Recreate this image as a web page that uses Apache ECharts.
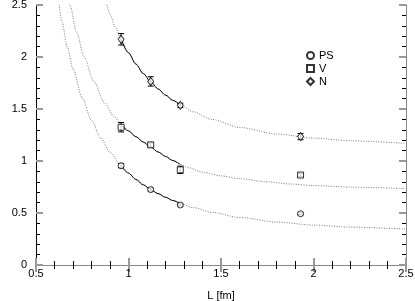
<!DOCTYPE html>
<html>
<head>
<meta charset="utf-8">
<script src="https://cdn.jsdelivr.net/npm/echarts@6/dist/echarts.min.js"></script>
<style>
html,body{margin:0;padding:0;background:#fff;}
#c{width:415px;height:301px;}
</style>
</head>
<body>
<div id="c"></div>
<script>
// ---- data ----
const L_data = [0.96, 1.12, 1.28, 1.93];
const ps_m = [0.955, 0.725, 0.577, 0.493];
const ps_err = [0.02, 0.015, 0.01, 0.01];
const v_m = [1.325, 1.155, 0.915, 0.865];
const v_err = [0.045, 0.02, 0.035, 0.015];
const n_m = [2.17, 1.765, 1.535, 1.235];
const n_err = [0.055, 0.045, 0.02, 0.03];

// fitted curves
const ps_curve_L = [0.6, 0.62, 0.64, 0.67, 0.7, 0.75, 0.8, 0.85, 0.9, 0.96, 1.0, 1.04, 1.08, 1.12, 1.16, 1.2, 1.24, 1.28, 1.35, 1.45, 1.6, 1.8, 2.0, 2.2, 2.5];
const ps_curve_m = [2.74, 2.53, 2.338, 2.09, 1.885, 1.607, 1.391, 1.22, 1.084, 0.955, 0.884, 0.823, 0.771, 0.725, 0.686, 0.651, 0.62, 0.59, 0.552, 0.506, 0.457, 0.413, 0.384, 0.364, 0.345];
const v_curve_L = [0.67, 0.684, 0.72, 0.76, 0.81, 0.87, 0.92, 0.96, 1.0, 1.04, 1.08, 1.12, 1.16, 1.2, 1.24, 1.28, 1.32, 1.4, 1.5, 1.6, 1.75, 1.873, 2.0, 2.2, 2.5];
const v_curve_m = [2.605, 2.493, 2.234, 2.002, 1.772, 1.562, 1.432, 1.352, 1.29, 1.234, 1.182, 1.133, 1.087, 1.044, 1.004, 0.967, 0.937, 0.893, 0.857, 0.83, 0.80, 0.779, 0.764, 0.749, 0.734];
const n_curve_L = [0.86, 0.88, 0.9, 0.93, 0.96, 1.0, 1.04, 1.08, 1.12, 1.16, 1.2, 1.24, 1.28, 1.35, 1.45, 1.6, 1.8, 2.0, 2.2, 2.5];
const n_curve_m = [2.61, 2.507, 2.41, 2.282, 2.17, 2.041, 1.932, 1.84, 1.761, 1.693, 1.634, 1.583, 1.538, 1.4725, 1.40, 1.323, 1.26, 1.22, 1.194, 1.169];

const fitStart = 0.96, fitEnd = 1.28;
const x_ticks = [0.5, 1, 1.5, 2, 2.5];
const y_ticks = [0, 0.5, 1, 1.5, 2, 2.5];

// ---- build ----
const FONT = 'Liberation Sans';
function pairs(Ls, ms, f) {
  const out = [];
  for (let i = 0; i < Ls.length; i++) if (f(Ls[i])) out.push([Ls[i], ms[i]]);
  return out;
}
function curveSeries(Ls, ms) {
  const common = {type: 'line', showSymbol: false, symbol: 'none', smooth: 0.3, smoothMonotone: 'x',
    clip: true, silent: true, legendHoverLink: false};
  return [
    Object.assign({}, common, {z: 1, data: pairs(Ls, ms, l => true),
      lineStyle: {color: '#777', width: 1, type: [1, 1.5]}}),
    Object.assign({}, common, {z: 2, data: pairs(Ls, ms, l => l >= fitStart - 1e-9 && l <= fitEnd + 1e-9),
      lineStyle: {color: '#000', width: 1, type: 'solid'}})
  ];
}
function errSeries(ms, errs) {
  return {
    type: 'custom', silent: true, z: 3,
    data: L_data.map((l, i) => [l, ms[i], errs[i]]),
    encode: {x: 0, y: 1},
    renderItem: function (params, api) {
      const x = api.value(0), y = api.value(1), e = api.value(2);
      const t = api.coord([x, y + e]), b = api.coord([x, y - e]);
      const st = {stroke: '#000', lineWidth: 1};
      const cw = 3;
      return {type: 'group', children: [
        {type: 'line', shape: {x1: t[0], y1: t[1], x2: b[0], y2: b[1]}, style: st},
        {type: 'line', shape: {x1: t[0] - cw, y1: t[1], x2: t[0] + cw, y2: t[1]}, style: st},
        {type: 'line', shape: {x1: b[0] - cw, y1: b[1], x2: b[0] + cw, y2: b[1]}, style: st}
      ]};
    }
  };
}
function scatter(name, ms, symbol, size) {
  return {
    name: name, type: 'scatter', symbol: symbol, symbolSize: size, z: 4,
    data: L_data.map((l, i) => [l, ms[i]]),
    itemStyle: {color: '#fff', borderColor: '#000', borderWidth: 1}
  };
}

const axisCommon = {
  axisLine: {show: true, lineStyle: {color: '#000', width: 1}},
  axisTick: {show: true, inside: true, length: 7, lineStyle: {color: '#999', width: 2}},
  minorTick: {show: true, splitNumber: 5, length: 4, lineStyle: {color: '#000', width: 1}},
  splitLine: {show: false},
};

const option = {
  animation: false,
  backgroundColor: '#fff',
  textStyle: {fontFamily: FONT},
  grid: {left: 36, right: 9, top: 5, bottom: 36, containLabel: false, outerBoundsMode: 'none'},
  legend: {
    data: ['PS', 'V', 'N'], orient: 'vertical', left: 301, top: 45,
    itemWidth: 7, itemHeight: 7, itemGap: 2,
    textStyle: {fontFamily: FONT, fontSize: 11, color: '#000'},
    selectedMode: false
  },
  xAxis: [
    Object.assign({}, axisCommon, {type: 'value', min: x_ticks[0], max: x_ticks[x_ticks.length - 1], interval: 0.5,
      position: 'bottom', name: 'L [fm]', nameLocation: 'middle', nameGap: 25,
      nameTextStyle: {fontFamily: FONT, fontSize: 11, color: '#000'},
      axisLabel: {margin: 3, fontFamily: FONT, fontSize: 11, color: '#000'}}),
    Object.assign({}, axisCommon, {type: 'value', min: x_ticks[0], max: x_ticks[x_ticks.length - 1], interval: 0.5,
      position: 'top', axisLabel: {show: false},
      axisLine: {show: true, lineStyle: {color: '#888', width: 1}}})
  ],
  yAxis: [
    Object.assign({}, axisCommon, {type: 'value', min: y_ticks[0], max: y_ticks[y_ticks.length - 1], interval: 0.5,
      position: 'left', name: 'm [GeV]', nameLocation: 'middle', nameGap: 22,
      nameTextStyle: {fontFamily: FONT, fontSize: 11, color: '#000'},
      axisLabel: {margin: 9, fontFamily: FONT, fontSize: 11, color: '#000'}}),
    Object.assign({}, axisCommon, {type: 'value', min: y_ticks[0], max: y_ticks[y_ticks.length - 1], interval: 0.5,
      position: 'right', axisLabel: {show: false},
      axisLine: {show: true, lineStyle: {color: '#888', width: 1}}})
  ],
  series: [].concat(
    curveSeries(ps_curve_L, ps_curve_m),
    curveSeries(v_curve_L, v_curve_m),
    curveSeries(n_curve_L, n_curve_m),
    [errSeries(ps_m, ps_err), errSeries(v_m, v_err), errSeries(n_m, n_err)],
    [scatter('PS', ps_m, 'circle', 6), scatter('V', v_m, 'rect', 6), scatter('N', n_m, 'diamond', [6, 8])]
  )
};

const chart = echarts.init(document.getElementById('c'), null, {renderer: 'canvas'});
chart.setOption(option);
</script>
</body>
</html>
